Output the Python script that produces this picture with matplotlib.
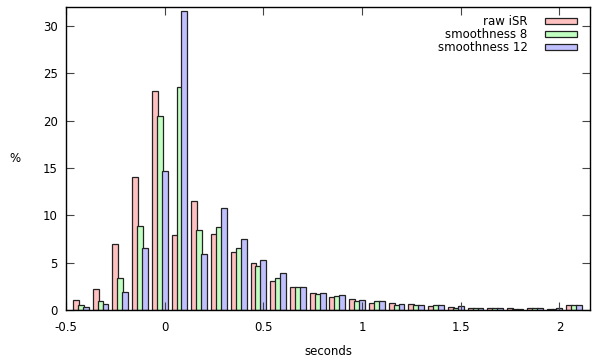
import matplotlib
matplotlib.use("Agg")
import matplotlib.pyplot as plt
import numpy as np
from matplotlib.patches import Patch

bin_centers = [-0.45, -0.35, -0.25, -0.15, -0.05, 0.05, 0.15, 0.25, 0.35, 0.45,
               0.55, 0.65, 0.75, 0.85, 0.95, 1.05, 1.15, 1.25, 1.35, 1.45,
               1.55, 1.65, 1.75, 1.85, 1.95, 2.05]
raw_isr = [1.05, 2.2, 6.94, 14.0, 23.15, 7.9, 11.5, 8.0, 6.14, 4.93,
           3.1, 2.39, 1.83, 1.41, 1.2, 0.77, 0.74, 0.63, 0.46, 0.32,
           0.25, 0.25, 0.25, 0.25, 0.14, 0.53]
smooth8 = [0.5, 0.95, 3.35, 8.9, 20.45, 23.6, 8.45, 8.73, 6.5, 4.65,
           3.35, 2.39, 1.69, 1.51, 0.95, 0.92, 0.49, 0.49, 0.53, 0.25,
           0.18, 0.18, 0.14, 0.25, 0.14, 0.53]
smooth12 = [0.35, 0.63, 1.87, 6.5, 14.7, 31.6, 5.9, 10.74, 7.47, 5.28,
            3.94, 2.39, 1.83, 1.58, 1.06, 0.93, 0.63, 0.49, 0.49, 0.39,
            0.18, 0.18, 0.14, 0.25, 0.18, 0.53]
labels = ["raw iSR", "smoothness 8", "smoothness 12"]
xticks = [-0.5, 0, 0.5, 1, 1.5, 2]
xticklabels = ["-0.5", "0", "0.5", "1", "1.5", "2"]
yticks = [0, 5, 10, 15, 20, 25, 30]

colors = ["#ffc0c0", "#c0ffc0", "#c0c0ff"]
edge = "#222222"
fs = 8.5

fig = plt.figure(figsize=(5.94, 3.60), dpi=100)
ax = fig.add_axes([66/594, 1-310/360, (590-66)/594, (310-7)/360])

x = np.array(bin_centers)
offs = [0.0, 0.025, 0.05]
for series, off, c in zip([raw_isr, smooth8, smooth12], offs, colors):
    ax.bar(x + off, series, width=0.03, color=c, edgecolor=edge, linewidth=0.9, align='center')

ax.set_xlim(-0.5, 2.155)
ax.set_ylim(0, 32)
ax.set_xticks(xticks)
ax.set_xticklabels(xticklabels)
ax.set_yticks(yticks)
ax.tick_params(direction='in', top=True, right=True, labelsize=fs, length=5.5, width=0.8,
               color='#444444')
ax.tick_params(axis='x', pad=8)
ax.tick_params(axis='y', pad=6)
for s in ax.spines.values():
    s.set_linewidth(1.0)
ax.set_xlabel("seconds", fontsize=fs, labelpad=8)
ax.set_ylabel("%", fontsize=fs, rotation=0, labelpad=20, va='center')

handles = [Patch(facecolor=c, edgecolor=edge, linewidth=0.9) for c in colors]
leg = ax.legend(handles, labels, loc='upper right', bbox_to_anchor=(577/594, 1-15/360),
                bbox_transform=fig.transFigure, frameon=False, markerfirst=False,
                fontsize=fs, handlelength=2.7, handleheight=0.45, handletextpad=1.5,
                labelspacing=0.0, borderpad=0, borderaxespad=0)
for t in leg.get_texts():
    t.set_ha('right')

fig.savefig("out.png", dpi=100)
